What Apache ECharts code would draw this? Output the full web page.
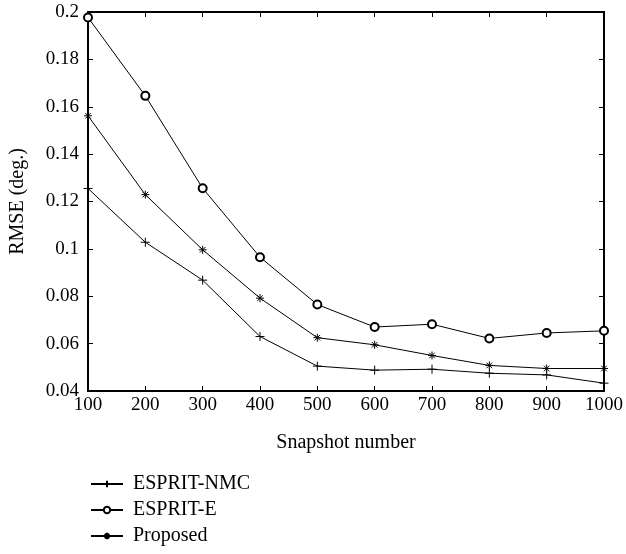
<!DOCTYPE html>
<html>
<head>
<meta charset="utf-8">
<script src="https://cdn.jsdelivr.net/npm/echarts@6/dist/echarts.min.js"></script>
<style>
  html, body { margin: 0; padding: 0; background: #fff; }
  #chart { width: 626px; height: 554px; }
</style>
</head>
<body>
<div id="chart"></div>
<script>
var snapshots = [100, 200, 300, 400, 500, 600, 700, 800, 900, 1000];
var nmc = [0.1255, 0.1028, 0.0868, 0.0630, 0.0505, 0.0488, 0.0492, 0.0475, 0.0468, 0.0433];
var espritE = [0.1977, 0.1646, 0.1256, 0.0965, 0.0765, 0.0670, 0.0682, 0.0622, 0.0645, 0.0654];
var proposed = [0.1562, 0.1229, 0.0996, 0.0792, 0.0625, 0.0595, 0.0550, 0.0508, 0.0495, 0.0495];

var font = 'Liberation Serif';
var plusPath = 'path://M0,-5L0,5M-5,0L5,0';
var starPath = 'path://M0,-5L0,5M-5,0L5,0M-3.5,-3.5L3.5,3.5M-3.5,3.5L3.5,-3.5';

function pairs(ys) {
    var res = [];
    for (var i = 0; i < snapshots.length; i++) {
        res.push([snapshots[i], ys[i]]);
    }
    return res;
}

function lineSeries(name, ys, symbol, size) {
    return {
        name: name,
        type: 'line',
        data: pairs(ys),
        symbol: symbol,
        symbolSize: size,
        showAllSymbol: true,
        clip: false,
        lineStyle: { color: '#000', width: 1 },
        itemStyle: { color: symbol === 'emptyCircle' ? '#000' : 'none', borderColor: '#000', borderWidth: 1 },
        emphasis: { disabled: true },
        animation: false
    };
}

var axisCommon = {
    axisLine: { show: true, lineStyle: { color: '#000', width: 2 } },
    axisTick: { show: true, inside: true, length: 5, lineStyle: { color: '#000', width: 1 } },
    splitLine: { show: false }
};

var myChart = echarts.init(document.getElementById('chart'));
var option = {
    backgroundColor: '#fff',
    textStyle: { fontFamily: font },
    grid: { left: 86, right: 19, top: 12, bottom: 163 },
    legend: {
        orient: 'vertical',
        left: 90,
        top: 474,
        padding: 0,
        itemWidth: 32,
        itemHeight: 8,
        itemGap: 6,
        textStyle: { fontFamily: font, fontSize: 20, color: '#000', padding: [0, 0, 0, 5] },
        data: ['ESPRIT-NMC', 'ESPRIT-E', 'Proposed']
    },
    xAxis: [
        Object.assign({
            type: 'value', position: 'bottom', min: 100, max: 1000, interval: 100,
            name: 'Snapshot number', nameLocation: 'middle', nameGap: 42,
            nameTextStyle: { fontFamily: font, fontSize: 20, color: '#000' },
            axisLabel: { fontFamily: font, fontSize: 19, color: '#000', margin: 5,
                formatter: function (v) { return String(v); } }
        }, axisCommon),
        Object.assign({
            type: 'value', position: 'top', min: 100, max: 1000, interval: 100,
            axisLabel: { show: false }
        }, axisCommon)
    ],
    yAxis: [
        Object.assign({
            type: 'value', position: 'left', min: 0.04, max: 0.2, interval: 0.02,
            name: 'RMSE (deg.)', nameLocation: 'middle', nameGap: 60,
            nameTextStyle: { fontFamily: font, fontSize: 20, color: '#000' },
            axisLabel: { fontFamily: font, fontSize: 19, color: '#000', margin: 9 }
        }, axisCommon),
        Object.assign({
            type: 'value', position: 'right', min: 0.04, max: 0.2, interval: 0.02,
            axisLabel: { show: false }
        }, axisCommon)
    ],
    series: [
        lineSeries('ESPRIT-NMC', nmc, plusPath, 9),
        lineSeries('ESPRIT-E', espritE, 'emptyCircle', 8),
        lineSeries('Proposed', proposed, starPath, 8)
    ]
};
myChart.setOption(option);
window.addEventListener('resize', function () {
    myChart.resize();
});
</script>
</body>
</html>
